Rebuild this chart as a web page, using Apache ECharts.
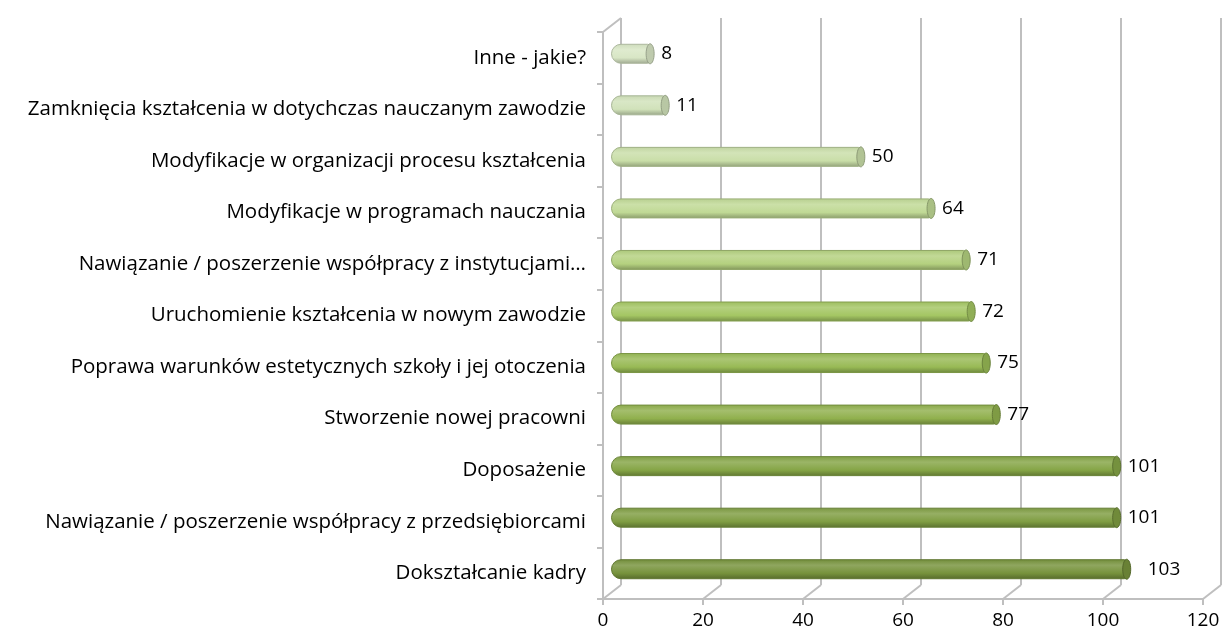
<!DOCTYPE html>
<html>
<head>
<meta charset="utf-8">
<script src="https://cdn.jsdelivr.net/npm/echarts@6/dist/echarts.min.js"></script>
<style>
  html, body { margin: 0; padding: 0; background: #fff; }
  #main { width: 1224px; height: 637px; }
</style>
</head>
<body>
<div id="main"></div>
<script>
// data, bottom to top as in the picture
var categories = [
    'Dokształcanie kadry',
    'Nawiązanie / poszerzenie współpracy z przedsiębiorcami',
    'Doposażenie',
    'Stworzenie nowej pracowni',
    'Poprawa warunków estetycznych szkoły i jej otoczenia',
    'Uruchomienie kształcenia w nowym zawodzie',
    'Nawiązanie / poszerzenie współpracy z instytucjami…',
    'Modyfikacje w programach nauczania',
    'Modyfikacje w organizacji procesu kształcenia',
    'Zamknięcia kształcenia w dotychczas nauczanym zawodzie',
    'Inne - jakie?'
];
var counts = [103, 101, 101, 77, 75, 72, 71, 64, 50, 11, 8];
var xTicks = [0, 20, 40, 60, 80, 100, 120];

// one shade per bar, dark olive at the bottom to pale green at the top
var shades = ['#77933c', '#7f9d42', '#85a546', '#90b04d', '#98ba55', '#a4c663',
              '#b4d17f', '#c0d995', '#c9dea8', '#d1e2ba', '#d8e6c5'];

var depthX = 18, depthY = -14;
var gridColor = '#bfbfbf';
var fontName = '"Open Sans", sans-serif';

// blend a hex colour towards another one
function mix(c, other, t) {
    var a = echarts.color.parse(c), b = echarts.color.parse(other);
    var r = [0, 1, 2].map(function (k) { return Math.round(a[k] + (b[k] - a[k]) * t); });
    return 'rgb(' + r.join(',') + ')';
}

function cylinder(c) {
    return new echarts.graphic.LinearGradient(0, 0, 0, 1, [
        { offset: 0, color: mix(c, '#000', 0.05) },
        { offset: 0.3, color: mix(c, '#fff', 0.18) },
        { offset: 0.7, color: c },
        { offset: 1, color: mix(c, '#000', 0.28) }
    ]);
}

function displayChart() {
    var chartDom = document.getElementById('main');
    var myChart = echarts.init(chartDom);

    var barData = counts.map(function (v, i) {
        var item = {
            value: v,
            itemStyle: {
                color: cylinder(shades[i]),
                borderColor: mix(shades[i], '#000', 0.2),
                borderWidth: 1
            }
        };
        // the longest bar's label sits a little further out
        if (i === 0) item.label = { distance: 20 };
        return item;
    });

    var option = {
        animation: false,
        textStyle: { fontFamily: fontName },
        grid: [
            // front plane: axis labels and ticks
            { left: 603, width: 600, top: 32, height: 567 },
            // back wall: grid lines
            { left: 603 + depthX, width: 600, top: 32 + depthY, height: 567 },
            // bars sit half way in depth
            { left: 603 + depthX / 2 - 1, width: 602, top: 32 + depthY / 2 + 3, height: 567 }
        ],
        xAxis: [
            {
                gridIndex: 0, type: 'value', min: 0, max: 120, interval: 20,
                axisLine: { show: true, lineStyle: { color: gridColor, width: 2 } },
                axisTick: { show: true, length: 6, lineStyle: { color: gridColor, width: 2 } },
                axisLabel: { color: '#000', fontSize: 19, fontFamily: fontName, margin: 12 },
                splitLine: { show: false }
            },
            {
                gridIndex: 1, type: 'value', min: 0, max: 120, interval: 20,
                axisLine: { show: false }, axisTick: { show: false }, axisLabel: { show: false },
                splitLine: { show: true, lineStyle: { color: gridColor, width: 2 } }
            },
            {
                gridIndex: 2, type: 'value', min: 0, max: 120, show: false
            }
        ],
        yAxis: [
            {
                gridIndex: 0, type: 'category', data: categories,
                axisLine: { show: true, lineStyle: { color: gridColor, width: 2 } },
                axisTick: { show: true, length: 6, lineStyle: { color: gridColor, width: 2 } },
                axisLabel: { color: '#000', fontSize: 20.5, fontFamily: fontName, margin: 17 }
            },
            {
                gridIndex: 1, type: 'category', data: categories, show: false
            },
            {
                gridIndex: 2, type: 'category', data: categories, show: false
            }
        ],
        series: [
            {
                // slanted floor lines and the top edge of the left wall
                type: 'custom',
                xAxisIndex: 0, yAxisIndex: 0,
                data: xTicks.map(function (t) { return [t]; }),
                silent: true,
                renderItem: function (params, api) {
                    var cs = params.coordSys;
                    var x = api.coord([api.value(0), 0])[0];
                    var y = cs.y + cs.height;
                    var children = [{
                        type: 'line',
                        shape: { x1: x, y1: y, x2: x + depthX, y2: y + depthY },
                        style: { stroke: gridColor, lineWidth: 2 }
                    }];
                    if (params.dataIndex === 0) {
                        children.push({
                            type: 'line',
                            shape: { x1: cs.x, y1: cs.y, x2: cs.x + depthX, y2: cs.y + depthY },
                            style: { stroke: gridColor, lineWidth: 2 }
                        });
                    }
                    return { type: 'group', children: children };
                }
            },
            {
                type: 'bar',
                xAxisIndex: 2, yAxisIndex: 2,
                data: barData,
                barWidth: 20,
                itemStyle: { borderRadius: [10, 3, 3, 10] },
                label: {
                    show: true, position: 'right', distance: 10,
                    color: '#000', fontSize: 19, fontFamily: fontName
                },
                z: 3
            },
            {
                // the round end cap of each cylinder
                type: 'custom',
                xAxisIndex: 2, yAxisIndex: 2,
                data: counts.map(function (v, i) { return [v, i]; }),
                silent: true,
                z: 4,
                renderItem: function (params, api) {
                    var p = api.coord([api.value(0), api.value(1)]);
                    var c = shades[params.dataIndex];
                    return {
                        type: 'ellipse',
                        shape: { cx: p[0] - 1, cy: p[1], rx: 4, ry: 10 },
                        style: {
                            fill: mix(c, '#000', 0.12),
                            stroke: mix(c, '#000', 0.3),
                            lineWidth: 1
                        }
                    };
                }
            }
        ]
    };
    myChart.setOption(option);
}
displayChart();
</script>
</body>
</html>
